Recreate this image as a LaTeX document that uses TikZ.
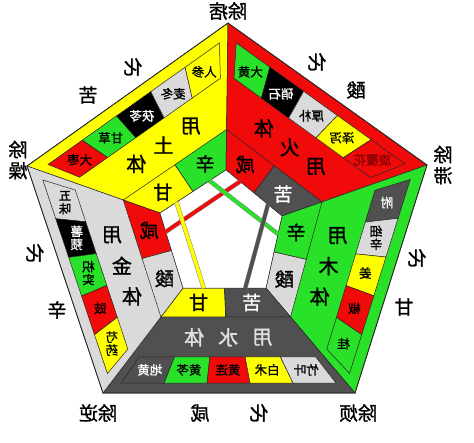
\documentclass[tikz,border=0pt]{standalone}
\usepackage{fontspec}
\newfontfamily\cjk{Noto Sans CJK SC}[FakeBold=1.2]
\usetikzlibrary{calc}
\definecolor{tuYellow}{RGB}{255,255,0}
\definecolor{huoRed}{RGB}{240,10,10}
\definecolor{muGreen}{RGB}{40,225,40}
\definecolor{shuiGrey}{RGB}{80,80,80}
\definecolor{jinGrey}{RGB}{218,218,218}
\tikzstyle{cell}       = [draw=black!85,
                          line width=0.5pt]
\tikzstyle{mirrored}   = [xscale=-1]
\tikzstyle{outerText}  = [mirrored,
                          font=\cjk\fontsize{19}{21}\selectfont,
                          align=center,
                          inner sep=0pt]
\tikzstyle{elemText}   = [mirrored,
                          font=\cjk\fontsize{20}{20}\selectfont,
                          inner sep=0pt]
\tikzstyle{flavorText} = [mirrored,
                          font=\cjk\fontsize{19}{19}\selectfont,
                          inner sep=0pt]
\tikzstyle{herbText}   = [mirrored,
                          font=\cjk\fontsize{12.5}{13}\selectfont,
                          align=center,
                          inner sep=0pt]
\tikzstyle{flavorLine} = [draw=black!45,
                          line width=0.5pt,
                          double distance=3.5pt]
\newcommand{\bandfill}[3]{%
  \filldraw [cell, fill=#3] (#10) -- (#20) -- (#23) -- (#13) -- cycle;}
\newcommand{\flavors}[8]{%
  \coordinate (#1#2i) at ($(#13)!0.25!(#23)$);
  \coordinate (#1#2j) at ($(#13)!0.75!(#23)$);
  \coordinate (#1#2k) at ($(#12)!0.25!(#22)$);
  \coordinate (#1#2l) at ($(#12)!0.75!(#22)$);
  \filldraw [cell, fill=#3] (#13) -- ($(#13)!0.5!(#23)$) -- ($(#12)!0.5!(#22)$) -- (#12) -- cycle;
  \filldraw [cell, fill=#6] ($(#13)!0.5!(#23)$) -- (#23) -- (#22) -- ($(#12)!0.5!(#22)$) -- cycle;
  \node [flavorText, text=#5] (#1#2f1) at ($(#1#2i)!0.5!(#1#2k)$) {#4};
  \node [flavorText, text=#8] (#1#2f2) at ($(#1#2j)!0.5!(#1#2l)$) {#7};}
\newcommand{\herb}[6]{%
  \pgfmathsetmacro{\herbA}{0.045+0.182*#3}
  \pgfmathsetmacro{\herbB}{0.227+0.182*#3}
  \pgfmathsetmacro{\herbC}{0.136+0.182*#3}
  \filldraw [cell, fill=#4] ($(#1a)!\herbA!(#2a)$) -- ($(#1a)!\herbB!(#2a)$)
      -- ($(#1b)!\herbB!(#2b)$) -- ($(#1b)!\herbA!(#2b)$) -- cycle;
  \node [herbText, text=#6] (#1#2h#3) at ($(#1c)!\herbC!(#2c)$) {#5};}

\begin{document}
\begin{tikzpicture}[x=1pt, y=-1pt]
\fill [white] (0,0) rectangle (474,442);
\useasboundingbox (0,0) rectangle (474,442);

\coordinate (T0)  at (228,23);
\coordinate (R0)  at (427,165);
\coordinate (BR0) at (355,393);
\coordinate (BL0) at (103,393);
\coordinate (L0)  at (27,166);
\coordinate (T3)  at (226,170);
\coordinate (R3)  at (282,216);
\coordinate (BR3) at (266,288);
\coordinate (BL3) at (183,288);
\coordinate (L3)  at (160,213);
\foreach \vx in {T,R,BR,BL,L}{
  \coordinate (\vx2) at ($(\vx3)!0.276!(\vx0)$);
  \coordinate (\vx m) at ($(\vx3)!0.47!(\vx0)$);
  \coordinate (\vx b) at ($(\vx3)!0.657!(\vx0)$);
  \coordinate (\vx c) at ($(\vx3)!0.78!(\vx0)$);
  \coordinate (\vx a) at ($(\vx3)!0.905!(\vx0)$);
}

\bandfill{L}{T}{tuYellow}
\bandfill{T}{R}{huoRed}
\bandfill{R}{BR}{muGreen}
\bandfill{BR}{BL}{shuiGrey}
\bandfill{BL}{L}{jinGrey}

\flavors{L}{T}{tuYellow}{甘}{black}{muGreen}{辛}{black}
\flavors{T}{R}{huoRed}{咸}{black}{shuiGrey}{苦}{white}
\flavors{R}{BR}{muGreen}{辛}{black}{jinGrey}{酸}{black}
\flavors{BL}{BR}{tuYellow}{甘}{black}{shuiGrey}{苦}{white}
\flavors{L}{BL}{huoRed}{咸}{black}{jinGrey}{酸}{black}

\herb{L}{T}{0}{huoRed}{大枣}{black}
\herb{L}{T}{1}{muGreen}{甘草}{black}
\herb{L}{T}{2}{black}{茯苓}{white}
\herb{L}{T}{3}{jinGrey}{麦冬}{black}
\herb{L}{T}{4}{tuYellow}{人参}{black}

\herb{T}{R}{0}{muGreen}{大黄}{black}
\herb{T}{R}{1}{black}{硝石}{white}
\herb{T}{R}{2}{jinGrey}{厚朴}{black}
\herb{T}{R}{3}{tuYellow}{泽泻}{black}
\herb{T}{R}{4}{huoRed}{旋覆花}{red!55!black}

\herb{R}{BR}{0}{shuiGrey}{附}{white}
\herb{R}{BR}{1}{jinGrey}{细\\辛}{black}
\herb{R}{BR}{2}{tuYellow}{姜}{black}
\herb{R}{BR}{3}{huoRed}{椒}{black}
\herb{R}{BR}{4}{muGreen}{桂}{black}

\herb{BL}{BR}{0}{shuiGrey}{地黄}{white}
\herb{BL}{BR}{1}{muGreen}{黄芩}{black}
\herb{BL}{BR}{2}{huoRed}{黄连}{black}
\herb{BL}{BR}{3}{tuYellow}{白术}{black}
\herb{BL}{BR}{4}{jinGrey}{竹叶}{black}

\herb{L}{BL}{0}{jinGrey}{五\\味}{black}
\herb{L}{BL}{1}{black}{薯\\蓣}{white}
\herb{L}{BL}{2}{muGreen}{枳\\实}{black}
\herb{L}{BL}{3}{huoRed}{豉}{black}
\herb{L}{BL}{4}{tuYellow}{芍\\药}{black}

\filldraw [cell, fill=white] (T3) -- (R3) -- (BR3) -- (BL3) -- (L3) -- cycle;

\draw [flavorLine, double=huoRed]   (LBLi) -- (TRi);
\draw [flavorLine, double=tuYellow] (LTi)  -- (BLBRi);
\draw [flavorLine, double=muGreen]  (LTj)  -- (RBRi);
\draw [flavorLine, double=shuiGrey] (TRj)  -- (BLBRj);

\draw [cell, line width=0.8pt] (T0) -- (R0) -- (BR0) -- (BL0) -- (L0) -- cycle;

\node [elemText] (tuTi)   at ($(Lm)!0.3!(Tm)$)  {体};
\node [elemText] (tuName) at ($(Lm)!0.51!(Tm)$) {土};
\node [elemText] (tuYong) at ($(Lm)!0.72!(Tm)$) {用};
\node [elemText] (huoTi)   at ($(Tm)!0.3!(Rm)$)  {体};
\node [elemText] (huoName) at ($(Tm)!0.51!(Rm)$) {火};
\node [elemText] (huoYong) at ($(Tm)!0.72!(Rm)$) {用};
\node [elemText] (muYong) at ($(Rm)!0.3!(BRm)$)  {用};
\node [elemText] (muName) at ($(Rm)!0.51!(BRm)$) {木};
\node [elemText] (muTi)   at ($(Rm)!0.72!(BRm)$) {体};
\node [elemText, text=white!88!black] (shuiTi)   at ($(BLm)!0.3!(BRm)$)  {体};
\node [elemText, text=white!88!black] (shuiName) at ($(BLm)!0.51!(BRm)$) {水};
\node [elemText, text=white!88!black] (shuiYong) at ($(BLm)!0.72!(BRm)$) {用};
\node [elemText] (jinYong) at ($(Lm)!0.3!(BLm)$)  {用};
\node [elemText] (jinName) at ($(Lm)!0.51!(BLm)$) {金};
\node [elemText] (jinTi)   at ($(Lm)!0.72!(BLm)$) {体};

\node [outerText] (chuPi)   at (228,11)  {除痞};
\node [outerText] (chuZao)  at (18,160)  {除\\燥};
\node [outerText] (chuZhi)  at (443,165) {除\\滞};
\node [outerText] (chuNi)   at (98,413)  {除逆};
\node [outerText] (chuFan)  at (358,413) {除烦};

\node [outerText] (huaKu)   at (133,67)  {化};
\node [outerText] (weiKu)   at (88,95)   {苦};
\node [outerText] (huaSuan) at (317,62)  {化};
\node [outerText] (weiSuan) at (356,90)  {酸};
\node [outerText] (huaGan)  at (417,258) {化};
\node [outerText] (weiGan)  at (404,307) {甘};
\node [outerText] (weiXian) at (200,413) {咸};
\node [outerText] (huaXian) at (259,413) {化};
\node [outerText] (huaXin)  at (35,253)  {化};
\node [outerText] (weiXin)  at (57,310)  {辛};
\end{tikzpicture}
\end{document}
